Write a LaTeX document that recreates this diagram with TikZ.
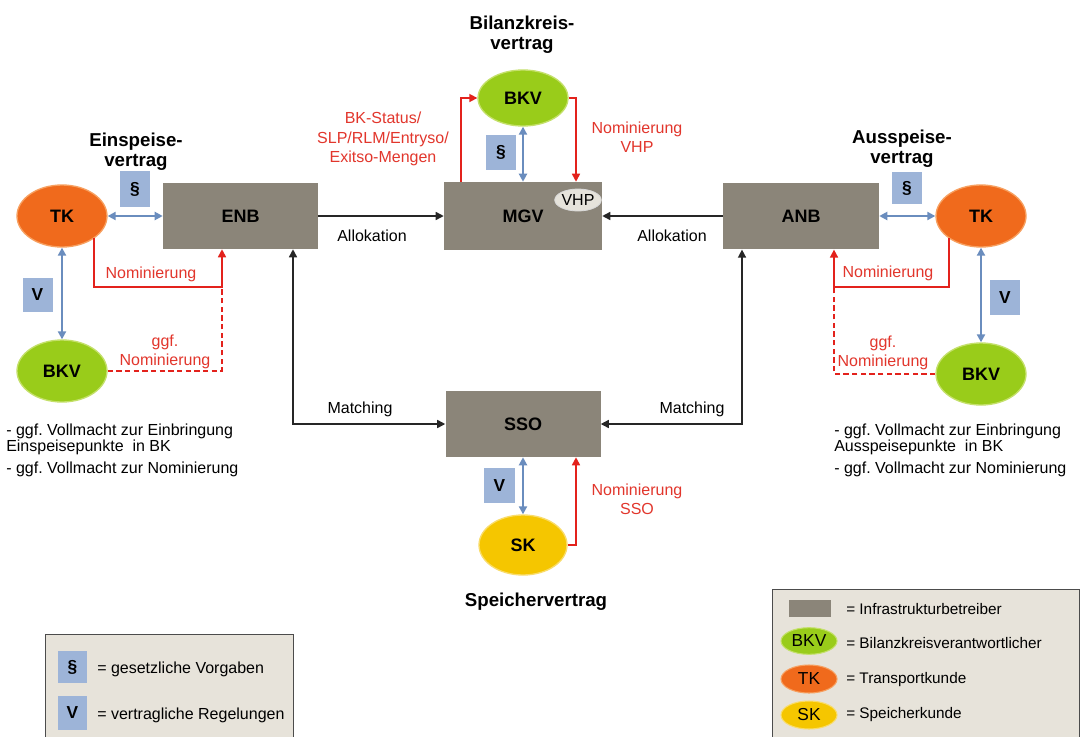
\documentclass[tikz,border=0pt]{standalone}
\usepackage{fontspec}
\setmainfont{Liberation Sans}
\frenchspacing
\usetikzlibrary{shapes.geometric,arrows.meta}
\definecolor{infraC}{HTML}{8B8579}
\definecolor{tkC}{HTML}{F06A1C}
\definecolor{tkB}{HTML}{F7A060}
\definecolor{bkvC}{HTML}{99CC1A}
\definecolor{bkvB}{HTML}{C4E06A}
\definecolor{skC}{HTML}{F5C600}
\definecolor{skB}{HTML}{F9DC6A}
\definecolor{pBlue}{HTML}{9DB4D8}
\definecolor{aBlue}{HTML}{6A8DBE}
\definecolor{redC}{HTML}{E3221C}
\definecolor{redT}{HTML}{E2362C}
\definecolor{legC}{HTML}{E7E3DA}
\definecolor{vhpC}{HTML}{E6E3DB}
\begin{document}
\begin{tikzpicture}[x=0.75pt,y=-0.75pt,
  infra/.style={rectangle, fill=infraC, inner sep=0pt, font=\fontsize{13.5}{16}\selectfont\bfseries},
  ell/.style={ellipse, line width=1pt, inner sep=0pt, minimum width=67.5pt, minimum height=46.5pt, font=\fontsize{13.5}{16}\selectfont\bfseries},
  tk/.style={ell, fill=tkC, draw=tkB},
  bkv/.style={ell, fill=bkvC, draw=bkvB},
  sk/.style={ell, fill=skC, draw=skB},
  pbox/.style={rectangle, fill=pBlue, inner sep=0pt, font=\fontsize{13}{15}\selectfont\bfseries},
  tip/.tip={Triangle[length=6pt,width=6pt]},
  blu/.style={draw=aBlue, line width=1.5pt, tip-tip},
  redarr/.style={draw=redC, line width=1.2pt, -tip},
  reddash/.style={draw=redC, line width=1.2pt, dash pattern=on 4pt off 2.5pt},
  blk/.style={draw=black!85, line width=1.1pt, -tip},
  blkboth/.style={draw=black!85, line width=1.1pt, tip-tip},
  lbl/.style={font=\fontsize{12}{14.5}\selectfont, align=center, inner sep=0pt},
  rlbl/.style={lbl, text=redT},
  hdr/.style={font=\fontsize{14}{15}\selectfont\bfseries, align=center, inner sep=0pt},
  note/.style={font=\fontsize{12}{14}\selectfont, anchor=west, inner sep=0pt},
  legbox/.style={rectangle, draw=black!70, line width=0.8pt, fill=legC, anchor=north west, inner sep=0pt},
  legtxt/.style={font=\fontsize{11.5}{14}\selectfont, anchor=west, inner sep=0pt}
]
\useasboundingbox (0,0) rectangle (1081,736);
\fill[white] (0,0) rectangle (1081,736);

% infrastructure boxes
\node[infra, minimum width=116.25pt, minimum height=49.5pt] (enb) at (240.5,216) {ENB};
\node[infra, minimum width=118.5pt, minimum height=51pt] (mgv) at (523,216) {MGV};
\node[infra, minimum width=117pt, minimum height=50pt] (anb) at (801,216) {ANB};
\node[infra, minimum width=116.25pt, minimum height=49.5pt] (sso) at (523,424) {SSO};
\node[ellipse, fill=vhpC, draw=white!85!black, line width=0.6pt, minimum width=28.5pt, minimum height=16.5pt, inner sep=0pt, font=\fontsize{12}{14}\selectfont] (vhp) at (578,200) {VHP};

% ellipses
\node[tk] (tkl) at (62,216) {TK};
\node[bkv] (bkvl) at (62,371) {BKV};
\node[bkv, minimum height=42pt] (bkvt) at (523,98) {BKV};
\node[tk] (tkr) at (981,216) {TK};
\node[bkv] (bkvr) at (981,374) {BKV};
\node[sk, minimum width=66pt, minimum height=45pt] (sk) at (523,545) {SK};

% headers
\node[hdr] (hein) at (136,152) {Einspeise-\\vertrag};
\node[hdr] (haus) at (902,149) {Ausspeise-\\vertrag};
\node[hdr] (hbil) at (522,35) {Bilanzkreis-\\vertrag};
\node[hdr] (hspe) at (536,602) {Speichervertrag};

% paragraph / V boxes
\node[pbox, minimum width=22.5pt, minimum height=27pt] (p1) at (135,189) {\S};
\node[pbox, minimum width=22.5pt, minimum height=25.5pt] (v1) at (37.5,295) {V};
\node[pbox, minimum width=22.5pt, minimum height=26pt] (p2) at (501,152.5) {\S};
\node[pbox, minimum width=22.5pt, minimum height=24pt] (p3) at (907,188) {\S};
\node[pbox, minimum width=22.5pt, minimum height=26pt] (v2) at (1005,297.5) {V};
\node[pbox, minimum width=23pt, minimum height=26pt] (v3) at (499.5,485.5) {V};

% helper coordinates
\coordinate (nl) at (222,287);
\coordinate (nr) at (834,287);
\coordinate (ml) at (293,424);
\coordinate (mr) at (742,424);
\coordinate (bk) at (461,98);
\coordinate (vx) at (576,98);
\coordinate (sx) at (576,545);

% blue contract arrows
\draw[blu] (tkl.east) -- (enb.west);
\draw[blu] (tkl.south) -- (bkvl.north);
\draw[blu] (bkvt.south) -- (mgv.north);
\draw[blu] (anb.east) -- (tkr.west);
\draw[blu] (tkr.south) -- (bkvr.north);
\draw[blu] (sso.south) -- (sk.north);

% black flows
\draw[blk] (enb.east) -- (mgv.west);
\draw[blk] (anb.west) -- (mgv.east);
\draw[blkboth] (enb.south -| ml) |- (sso.west);
\draw[blkboth] (anb.south -| mr) |- (sso.east);

% red flows
\draw[redarr] (tkl.south east) |- (nl) -- (nl |- enb.south);
\draw[reddash] (bkvl.east) -| (nl);
\draw[redarr] (tkr.south west) |- (nr) -- (nr |- anb.south);
\draw[reddash] (bkvr.west) -| (nr);
\draw[redarr] (mgv.north -| bk) |- (bkvt.west);
\draw[redarr] (bkvt.east) -| (mgv.north -| vx);
\draw[redarr] (sk.east) -| (sso.south -| sx);

% labels
\node[lbl] (al1) at (372,236) {Allokation};
\node[lbl] (al2) at (672,236) {Allokation};
\node[lbl] (ma1) at (360,409) {Matching};
\node[lbl] (ma2) at (692,409) {Matching};
\node[rlbl] (rl1) at (383,139) {BK-Status/\\SLP/RLM/Entryso/\\Exitso-Mengen};
\node[rlbl] (rl2) at (637,137) {Nominierung\\VHP};
\node[rlbl] (rl3) at (151,274) {Nominierung};
\node[rlbl] (rl4) at (165,352) {ggf.\\Nominierung};
\node[rlbl] (rl5) at (888,273) {Nominierung};
\node[rlbl] (rl6) at (883,353) {ggf.\\Nominierung};
\node[rlbl] (rl7) at (637,499) {Nominierung\\SSO};

% notes
\node[note] (nl1) at (6,431) {- ggf. Vollmacht zur Einbringung};
\node[note] (nl2) at (6,447) {Einspeisepunkte\ \ in BK};
\node[note] (nl3) at (6,469) {- ggf. Vollmacht zur Nominierung};
\node[note] (nr1) at (834,431) {- ggf. Vollmacht zur Einbringung};
\node[note] (nr2) at (834,447) {Ausspeisepunkte\ \ in BK};
\node[note] (nr3) at (834,469) {- ggf. Vollmacht zur Nominierung};

% legend left
\node[legbox, minimum width=186pt, minimum height=81pt] (legl) at (45,634) {};
\node[pbox, minimum width=22pt, minimum height=24pt] (lp) at (72.5,667) {\S};
\node[pbox, minimum width=22pt, minimum height=25.5pt] (lv) at (72.5,713) {V};
\node[legtxt, font=\fontsize{12}{14}\selectfont] (lt1) at (97,669) {= gesetzliche Vorgaben};
\node[legtxt, font=\fontsize{12}{14}\selectfont] (lt2) at (97,715) {= vertragliche Regelungen};

% legend right
\node[legbox, minimum width=230pt, minimum height=115pt] (legr) at (772,589) {};
\node[rectangle, fill=infraC, minimum width=31.5pt, minimum height=13pt, inner sep=0pt] (li) at (810,608.5) {};
\node[ellipse, fill=bkvC, draw=bkvB, line width=0.8pt, minimum width=42pt, minimum height=20pt, inner sep=0pt, font=\fontsize{13}{15}\selectfont] (lb) at (809,641) {BKV};
\node[ellipse, fill=tkC, draw=tkB, line width=0.8pt, minimum width=42pt, minimum height=21pt, inner sep=0pt, font=\fontsize{13}{15}\selectfont] (lk) at (809,679) {TK};
\node[ellipse, fill=skC, draw=skB, line width=0.8pt, minimum width=42pt, minimum height=21pt, inner sep=0pt, font=\fontsize{13}{15}\selectfont] (ls) at (809,715) {SK};
\node[legtxt] (lr1) at (846,609) {= Infrastrukturbetreiber};
\node[legtxt] (lr2) at (846,643) {= Bilanzkreisverantwortlicher};
\node[legtxt] (lr3) at (846,680) {= Transportkunde};
\node[legtxt] (lr4) at (846,715) {= Speicherkunde};
\end{tikzpicture}
\end{document}
